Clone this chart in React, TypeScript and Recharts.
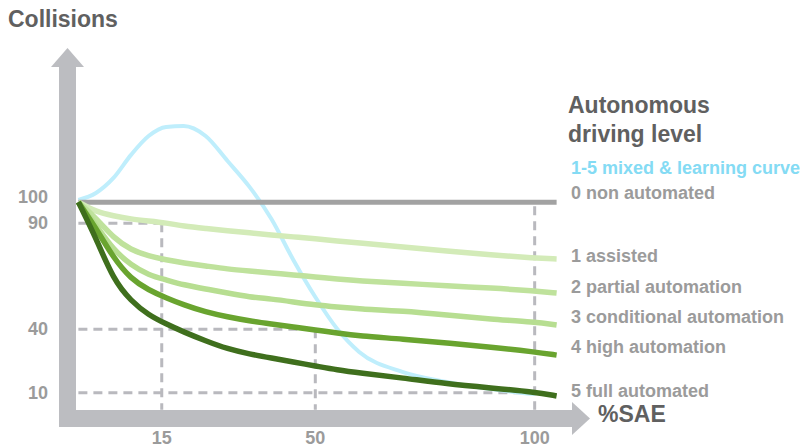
import { LineChart, Line, XAxis, YAxis, ReferenceLine } from 'recharts'

// %SAE sample positions (x) and collisions index per autonomy level
const sae = [-4, 0, 4, 8, 12, 16, 20, 25, 30, 35, 40, 45, 50, 55, 60, 70, 80, 90, 100, 105]
const mixed = [101, 104.3, 111.4, 122.3, 131.2, 135.5, 135.9, 131.2, 119.4, 107.2, 92, 72.7, 55.2, 40.1, 29.3, 19.8, 15.1, 11.8, 9.4, null]
const level0 = [100, 100, 100, 100, 100, 100, 100, 100, 100, 100, 100, 100, 100, 100, 100, 100, 100, 100, 100, 100]
const level1 = [100, 95.4, 93.5, 92.0, 91.1, 90.2, 88.7, 87.6, 86.5, 85.5, 84.5, 83.6, 82.7, 81.7, 80.7, 78.8, 76.9, 75.1, 73.6, 73.2]
const level2 = [100, 92.5, 83.1, 77.4, 74.6, 72.7, 71.3, 69.9, 68.4, 67.5, 66.6, 65.6, 64.7, 63.7, 62.8, 61.8, 60.4, 59.5, 58.1, 57.1]
const level3 = [100, 89.2, 77.4, 70.3, 65.6, 63.3, 60.9, 59.0, 57.1, 55.2, 54.3, 52.9, 51.5, 50.5, 49.6, 48.6, 46.7, 44.8, 43.4, 42.0]
const level4 = [100, 87.8, 73.6, 63.7, 58.5, 54.8, 51.5, 48.1, 45.8, 43.9, 42.5, 41.1, 39.7, 38.2, 36.8, 35.4, 33.5, 31.6, 29.3, 27.8]
const level5 = [100, 83.1, 63.3, 53.3, 46.7, 42.5, 38.7, 34.5, 30.7, 28.3, 26.4, 24.5, 22.7, 20.8, 19.4, 17.0, 14.2, 12.3, 10.4, 8.5]

const xTicks = [15, 50, 100]
const yTicks = [10, 40, 90, 100]

// guide pairs: (sae, collisions) marked with dashed lines
const guides = [
  { x: 15, y: 90 },
  { x: 50, y: 40 },
  { x: 100, y: 10 },
]

const levelNames = [
  '0 non automated',
  '1 assisted',
  '2 partial automation',
  '3 conditional automation',
  '4 high automation',
  '5 full automated',
]
const mixedName = '1-5 mixed & learning curve'

const data = sae.map((x, i) => ({
  x,
  mixed: mixed[i],
  l0: level0[i],
  l1: level1[i],
  l2: level2[i],
  l3: level3[i],
  l4: level4[i],
  l5: level5[i],
}))

const W = 809
const H = 448
const LEFT = 74
const RIGHT = 561
const TOP = 75
const BOTTOM = 414
const Y_AXIS_W = 60
const X_AXIS_H = 30

const AXIS = '#bcbdc1'
const DASH = '#b9b9be'
const GREY_TXT = '#9b9b9b'
const DARK_TXT = '#606060'
const FONT = '"Liberation Sans", Arial, sans-serif'

const greens = ['#d3ebb8', '#bfe29c', '#b7de91', '#69a42f', '#3f6f1d']
const labelY = [199, 262, 293, 323, 353, 397]

function XTick({ x, y, payload }: any) {
  return (
    <text x={x} y={y} dy={13} textAnchor="middle" fontFamily={FONT} fontWeight={700} fontSize={18} fill={GREY_TXT}>
      {payload.value}
    </text>
  )
}

function YTick({ x, y, payload }: any) {
  // the top label sits a little higher than its line in the original
  const dy = payload.value === 100 ? 1 : 6
  return (
    <text x={x} y={y} dy={dy} textAnchor="end" fontFamily={FONT} fontWeight={700} fontSize={18} fill={GREY_TXT}>
      {payload.value}
    </text>
  )
}

function Arrows() {
  const yc = LEFT - 6.5
  const xc = BOTTOM + 4.5
  return (
    <svg width={W} height={H} style={{ position: 'absolute', left: 0, top: 0 }}>
      <rect x={yc - 8.5} y={TOP - 8} width={17} height={xc + 8.5 - (TOP - 8)} fill={AXIS} />
      <polygon points={`${yc - 16.5},${TOP - 8} ${yc + 16.5},${TOP - 8} ${yc},${TOP - 27}`} fill={AXIS} />
      <rect x={yc - 8.5} y={xc - 8.5} width={RIGHT + 12 - (yc - 8.5)} height={17} fill={AXIS} />
      <polygon points={`${RIGHT + 11},${xc - 16.5} ${RIGHT + 11},${xc + 16.5} ${RIGHT + 29},${xc}`} fill={AXIS} />
    </svg>
  )
}

function Labels() {
  return (
    <svg width={W} height={H} style={{ position: 'absolute', left: 0, top: 0, pointerEvents: 'none' }}>
      <g fontFamily={FONT} fontWeight={700}>
        <text x={8} y={27} fontSize={23} fill={DARK_TXT}>Collisions</text>
        <text x={568} y={113} fontSize={23} fill={DARK_TXT}>Autonomous</text>
        <text x={568} y={142} fontSize={23} fill={DARK_TXT}>driving level</text>
        <text x={571} y={174} fontSize={18} fill="#84dbf4">{mixedName}</text>
        {levelNames.map((n, i) => (
          <text key={n} x={571} y={labelY[i]} fontSize={18} fill={GREY_TXT}>{n}</text>
        ))}
        <text x={598} y={422} fontSize={23} fill={DARK_TXT}>%SAE</text>
      </g>
    </svg>
  )
}

export default function App() {
  return (
    <div style={{ position: 'absolute', left: 0, top: 0, width: W, height: H, fontFamily: FONT, background: '#fff' }}>
      <Arrows />
      <div style={{ position: 'absolute', left: 0, top: 0 }}>
        <LineChart
          width={W}
          height={H}
          data={data}
          margin={{ top: TOP, right: W - RIGHT, left: LEFT - Y_AXIS_W, bottom: H - BOTTOM - X_AXIS_H }}
        >
          <XAxis
            type="number"
            dataKey="x"
            domain={[-5, 106]}
            ticks={xTicks}
            interval={0}
            height={X_AXIS_H}
            axisLine={false}
            tickLine={false}
            tickSize={0}
            tickMargin={17}
            tick={<XTick />}
          />
          <YAxis
            type="number"
            domain={[0, 160]}
            ticks={yTicks}
            interval={0}
            width={Y_AXIS_W}
            axisLine={false}
            tickLine={false}
            tickSize={0}
            tickMargin={26}
            tick={<YTick />}
          />
          {guides.map(g => (
            <ReferenceLine
              key={`h${g.x}`}
              segment={[{ x: -4, y: g.y }, { x: g.x, y: g.y }]}
              stroke={DASH}
              strokeWidth={3}
              strokeDasharray="9 6"
            />
          ))}
          {guides.map(g => (
            <ReferenceLine
              key={`v${g.x}`}
              segment={[{ x: g.x, y: g.x === 100 ? 98 : g.y }, { x: g.x, y: 2 }]}
              stroke={DASH}
              strokeWidth={3}
              strokeDasharray="9 6"
            />
          ))}
          <Line type="monotone" dataKey="mixed" stroke="#bfeefc" strokeWidth={4} dot={false} isAnimationActive={false} />
          <Line type="linear" dataKey="l0" stroke="#a2a2a2" strokeWidth={5} dot={false} isAnimationActive={false} />
          {['l1', 'l2', 'l3', 'l4', 'l5'].map((k, i) => (
            <Line
              key={k}
              type="basis"
              dataKey={k}
              stroke={greens[i]}
              strokeWidth={5.5}
              dot={false}
              isAnimationActive={false}
            />
          ))}
        </LineChart>
      </div>
      <Labels />
    </div>
  )
}
